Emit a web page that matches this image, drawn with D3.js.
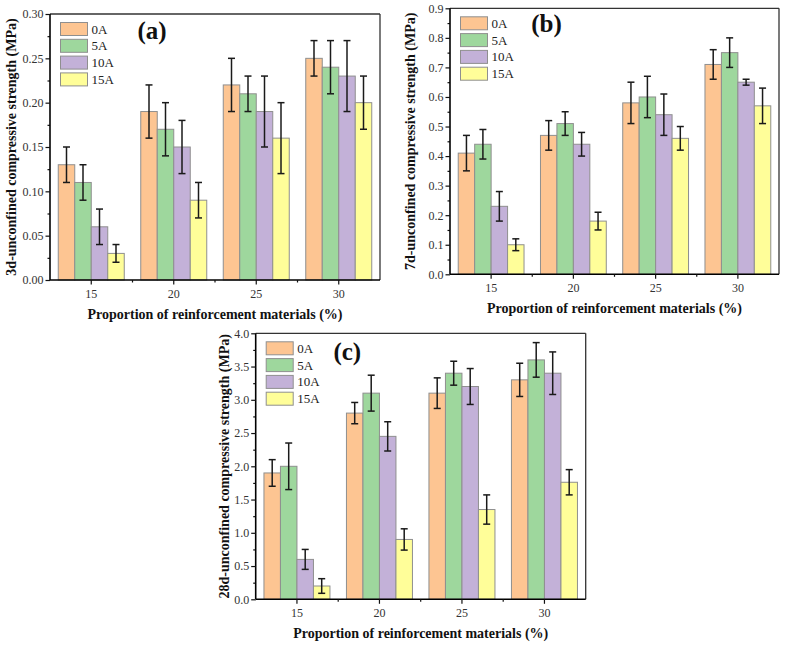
<!DOCTYPE html>
<html>
<head>
<meta charset="utf-8">
<script src="https://cdn.jsdelivr.net/npm/d3@7"></script>
<style>
  html, body { margin: 0; padding: 0; background: #fff; }
  svg { display: block; font-family: "Liberation Serif", "Times New Roman", serif; }
</style>
</head>
<body>
<svg id="chart" width="789" height="645"></svg>
<script>
// ---------- data ----------
const categories = ["15", "20", "25", "30"];
const series = ["0A", "5A", "10A", "15A"];
const colors = ["#FDC592", "#9ED79D", "#C3B1D8", "#FFFE99"];

// panel (a) 3d
const valuesA = [
  [0.13, 0.11, 0.06, 0.03],
  [0.19, 0.17, 0.15, 0.09],
  [0.22, 0.21, 0.19, 0.16],
  [0.25, 0.24, 0.23, 0.20]
];
const errorsA = [
  [0.02, 0.02, 0.02, 0.01],
  [0.03, 0.03, 0.03, 0.02],
  [0.03, 0.02, 0.04, 0.04],
  [0.02, 0.03, 0.04, 0.03]
];
const ticksA = [0, 0.05, 0.10, 0.15, 0.20, 0.25, 0.30];

// panel (b) 7d
const valuesB = [
  [0.41, 0.44, 0.23, 0.10],
  [0.47, 0.51, 0.44, 0.18],
  [0.58, 0.60, 0.54, 0.46],
  [0.71, 0.75, 0.65, 0.57]
];
const errorsB = [
  [0.06, 0.05, 0.05, 0.02],
  [0.05, 0.04, 0.04, 0.03],
  [0.07, 0.07, 0.07, 0.04],
  [0.05, 0.05, 0.01, 0.06]
];
const ticksB = [0, 0.1, 0.2, 0.3, 0.4, 0.5, 0.6, 0.7, 0.8, 0.9];

// panel (c) 28d
const valuesC = [
  [1.90, 2.00, 0.60, 0.20],
  [2.80, 3.10, 2.45, 0.90],
  [3.10, 3.40, 3.20, 1.35],
  [3.30, 3.60, 3.40, 1.76]
];
const errorsC = [
  [0.20, 0.35, 0.15, 0.11],
  [0.16, 0.27, 0.22, 0.16],
  [0.23, 0.18, 0.27, 0.22],
  [0.25, 0.26, 0.32, 0.19]
];
const ticksC = [0, 0.5, 1.0, 1.5, 2.0, 2.5, 3.0, 3.5, 4.0];

const xTitle = "Proportion of reinforcement materials (%)";

const panels = [
  { values: valuesA, errors: errorsA, ticks: ticksA, max: 0.30, fmt: ".2f", minorStep: 0.025,
    yTitle: "3d-unconfined compressive strength (MPa)", tag: "(a)",
    left: 50, top: 14, w: 330, h: 266, yTitleX: 11, tagDx: 102, tagDy: 24.5 },
  { values: valuesB, errors: errorsB, ticks: ticksB, max: 0.9, fmt: ".1f", minorStep: 0.05,
    yTitle: "7d-unconfined compressive strength (MPa)", tag: "(b)",
    left: 450, top: 8.3, w: 329, h: 266, yTitleX: 410, tagDx: 96.5, tagDy: 24 },
  { values: valuesC, errors: errorsC, ticks: ticksC, max: 4.0, fmt: ".1f", minorStep: 0.25,
    yTitle: "28d-unconfined compressive strength (MPa)", tag: "(c)",
    left: 255.7, top: 333.3, w: 330, h: 266, yTitleX: 224, tagDx: 91.6, tagDy: 27 }
];

const svg = d3.select("#chart");

panels.forEach(p => {
  const g = svg.append("g").attr("transform", `translate(${p.left},${p.top})`);

  const x0 = d3.scaleBand().domain(categories).range([0, p.w]).paddingInner(0).paddingOuter(0);
  const x1 = d3.scaleBand().domain(series).range([0, x0.bandwidth()]).paddingInner(0).paddingOuter(0.5);
  const y = d3.scaleLinear().domain([0, p.max]).range([p.h, 0]);

  // bars
  categories.forEach((c, ci) => {
    const gg = g.append("g").attr("transform", `translate(${x0(c)},0)`);
    series.forEach((s, si) => {
      const v = p.values[ci][si];
      gg.append("rect")
        .attr("x", x1(s))
        .attr("y", y(v))
        .attr("width", x1.bandwidth())
        .attr("height", p.h - y(v))
        .attr("fill", colors[si])
        .attr("stroke", "#8f8f8f")
        .attr("stroke-width", 1);
    });
    series.forEach((s, si) => {
      const v = p.values[ci][si], e = p.errors[ci][si];
      const cx = x1(s) + x1.bandwidth() / 2;
      const hi = y(v + e), lo = y(v - e);
      gg.append("line").attr("x1", cx).attr("x2", cx).attr("y1", hi).attr("y2", lo)
        .attr("stroke", "#1a1a1a").attr("stroke-width", 1.5);
      [hi, lo].forEach(yy => {
        gg.append("line").attr("x1", cx - 3.5).attr("x2", cx + 3.5).attr("y1", yy).attr("y2", yy)
          .attr("stroke", "#1a1a1a").attr("stroke-width", 1.5);
      });
    });
  });

  // frame top/right
  g.append("line").attr("x1", 0).attr("x2", p.w).attr("y1", 0).attr("y2", 0)
    .attr("stroke", "#333").attr("stroke-width", 1.3);
  g.append("line").attr("x1", p.w).attr("x2", p.w).attr("y1", 0).attr("y2", p.h)
    .attr("stroke", "#333").attr("stroke-width", 1.3);

  // y minor ticks
  const minor = d3.range(p.minorStep, p.max, p.minorStep * 2);
  const yMinor = d3.axisLeft(y).tickValues(minor).tickSize(2.5).tickFormat("");
  g.append("g").call(yMinor).call(a => { a.select(".domain").remove(); a.selectAll("line").attr("stroke", "#111").attr("stroke-width", 1.2); });

  // y axis
  const yAxis = d3.axisLeft(y).tickValues(p.ticks).tickSize(4.5).tickPadding(2).tickFormat(d3.format(p.fmt));
  g.append("g").call(yAxis).call(a => {
    a.select(".domain").attr("stroke", "#000").attr("stroke-width", 1.6).attr("d", `M0,${p.h}V0`);
    a.selectAll("line").attr("stroke", "#111").attr("stroke-width", 1.2);
    a.selectAll("text").attr("font-size", 12).attr("fill", "#333")
      .attr("font-family", "Liberation Serif, Times New Roman, serif");
  });

  // x axis: major ticks at centers, minor at group boundaries
  const xg = g.append("g").attr("transform", `translate(0,${p.h})`);
  const xAxis = d3.axisBottom(x0).tickSize(4.5).tickPadding(5);
  xg.call(xAxis).call(a => {
    a.select(".domain").attr("stroke", "#000").attr("stroke-width", 1.6).attr("d", `M0,0H${p.w}`);
    a.selectAll("line").attr("stroke", "#111").attr("stroke-width", 1.2);
    a.selectAll("text").attr("font-size", 12).attr("fill", "#333")
      .attr("font-family", "Liberation Serif, Times New Roman, serif");
  });
  const bounds = categories.slice(1).map(c => x0(c));
  xg.selectAll("line.minor").data(bounds).enter().append("line")
    .attr("class", "minor").attr("x1", d => d).attr("x2", d => d).attr("y1", 0).attr("y2", 2.5)
    .attr("stroke", "#111").attr("stroke-width", 1.2);

  // x title
  g.append("text").attr("x", p.w / 2).attr("y", p.h + 39)
    .attr("text-anchor", "middle").attr("font-weight", "bold").attr("font-size", 14)
    .attr("fill", "#111").text(xTitle);

  // y title
  svg.append("text")
    .attr("transform", `translate(${p.yTitleX},${p.top + p.h / 2}) rotate(-90)`)
    .attr("dy", "0.35em")
    .attr("text-anchor", "middle").attr("font-weight", "bold").attr("font-size", 14)
    .attr("fill", "#111").text(p.yTitle);

  // legend
  const lg = g.append("g").attr("transform", "translate(10.5,8.5)");
  series.forEach((s, si) => {
    lg.append("rect").attr("x", 0).attr("y", si * 16.8).attr("width", 27).attr("height", 13)
      .attr("fill", colors[si]).attr("stroke", "#8f8f8f").attr("stroke-width", 1);
    lg.append("text").attr("x", 31).attr("y", si * 16.8 + 6.5).attr("dy", "0.35em")
      .attr("font-size", 13).attr("fill", "#222").text(s);
  });

  // tag
  g.append("text").attr("x", p.tagDx).attr("y", p.tagDy)
    .attr("text-anchor", "middle").attr("font-weight", "bold").attr("font-size", 25)
    .attr("fill", "#111").text(p.tag);
});
</script>
</body>
</html>
